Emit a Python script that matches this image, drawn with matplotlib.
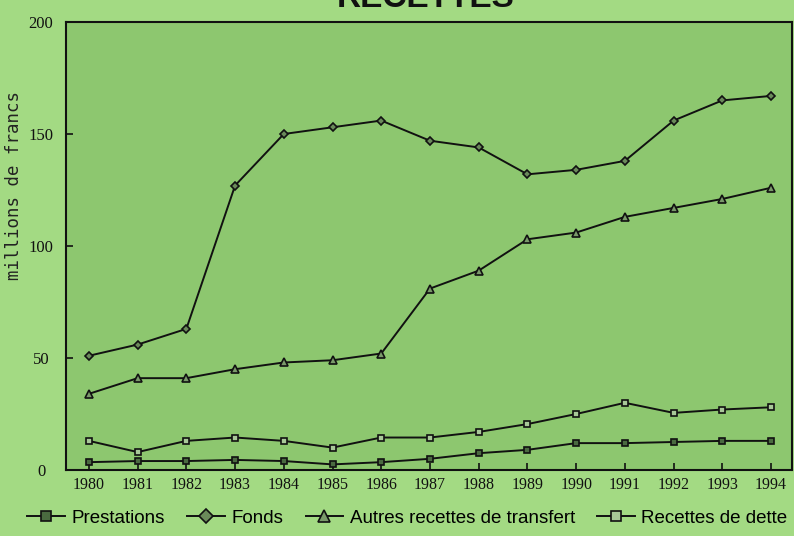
import matplotlib
matplotlib.use("Agg")
import matplotlib.pyplot as plt

years = list(range(1980, 1995))
year_labels = [str(y) for y in years]
prestations = [3.5, 4, 4, 4.5, 4, 2.5, 3.5, 5, 7.5, 9, 12, 12, 12.5, 13, 13]
fonds = [51, 56, 63, 127, 150, 153, 156, 147, 144, 132, 134, 138, 156, 165, 167]
autres = [34, 41, 41, 45, 48, 49, 52, 81, 89, 103, 106, 113, 117, 121, 126]
dette = [13, 8, 13, 14.5, 13, 10, 14.5, 14.5, 17, 20.5, 25, 30, 25.5, 27, 28]
yticks = [0, 50, 100, 150, 200]

fig_bg = "#a3da83"
ax_bg = "#8dc76f"

fig = plt.figure(figsize=(7.94, 5.36), dpi=100, facecolor=fig_bg)
ax = fig.add_axes([66/794, 1-470/536, (792-66)/794, (470-22)/536])
ax.set_facecolor(ax_bg)

lw = 1.4
ms = 5
l1, = ax.plot(years, prestations, color="#111", lw=lw, marker="s", ms=ms,
              mfc="#4a6a40", mec="#111", mew=1.2)
l2, = ax.plot(years, fonds, color="#111", lw=lw, marker="D", ms=ms-0.5,
              mfc="#6a8a5a", mec="#111", mew=1.2)
l3, = ax.plot(years, autres, color="#111", lw=lw, marker="^", ms=ms+1,
              mfc="#7a9a6a", mec="#111", mew=1.2)
l4, = ax.plot(years, dette, color="#111", lw=lw, marker="s", ms=ms,
              mfc="#a8c898", mec="#111", mew=1.2)

ax.set_xlim(1979.53, 1994.43)
ax.set_ylim(0, 200)
ax.set_xticks(years)
ax.set_xticklabels(year_labels, family="Liberation Serif", fontsize=11.5)
ax.set_yticks(yticks)
ax.set_yticklabels([str(v) for v in yticks], family="Liberation Serif", fontsize=12)
ax.tick_params(axis="both", direction="in", length=5, width=1.2, colors="#111")
ax.tick_params(axis="x", pad=5)
ax.tick_params(axis="y", pad=18)
for lab in ax.get_yticklabels():
    lab.set_horizontalalignment("center")
for s in ax.spines.values():
    s.set_linewidth(1.5)
    s.set_color("#111")

fig.text(14/794, 1-185/536, "millions de francs", rotation=90, family="DejaVu Sans Mono",
         fontsize=12.5, va="center", ha="center", color="#222")

fig.text(426/794, 1-7/536, "RECETTES", family="Liberation Sans", fontsize=24,
         fontweight="bold", ha="center", va="baseline", color="#111")

leg = fig.legend([l1, l2, l3, l4],
                 ["Prestations", "Fonds", "Autres recettes de transfert", "Recettes de dette"],
                 loc="lower center", bbox_to_anchor=(0.513, -0.014), ncol=4, frameon=False,
                 prop={"family": "Liberation Sans", "size": 13.5},
                 handlelength=2.0, handletextpad=0.35, columnspacing=1.2, markerscale=1.5)

fig.savefig("out.png", dpi=100, facecolor=fig_bg)
